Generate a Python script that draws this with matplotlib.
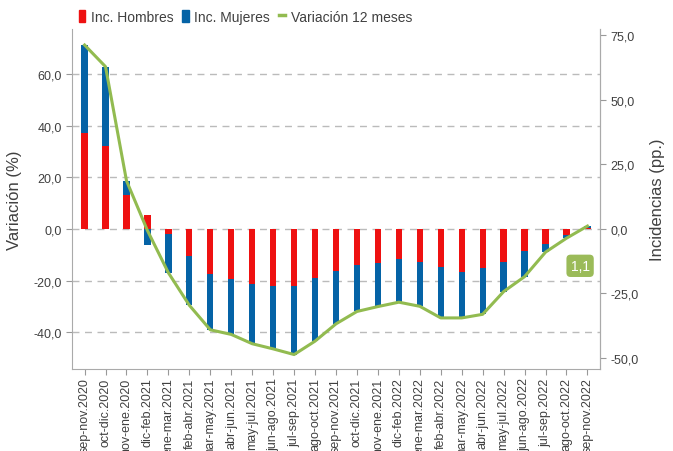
import matplotlib
matplotlib.use("Agg")
import matplotlib.pyplot as plt
import numpy as np
from matplotlib.lines import Line2D
from matplotlib.patches import Patch

plt.rcParams['font.family'] = ['Liberation Sans', 'DejaVu Sans']

categories = ["sep-nov.2020", "oct-dic.2020", "nov-ene.2020", "dic-feb.2021", "ene-mar.2021",
              "feb-abr.2021", "mar-may.2021", "abr-jun.2021", "may-jul.2021", "jun-ago.2021",
              "jul-sep.2021", "ago-oct.2021", "sep-nov.2021", "oct-dic.2021", "nov-ene.2021",
              "dic-feb.2022", "ene-mar.2022", "feb-abr.2022", "mar-may.2022", "abr-jun.2022",
              "may-jul.2022", "jun-ago.2022", "jul-sep.2022", "ago-oct.2022", "sep-nov.2022"]

hombres = [37.1, 32.0, 13.3, 5.5, -1.8, -10.6, -17.4, -19.6, -21.4, -22.2, -22.2, -19.1, -16.5,
           -13.8, -13.2, -11.6, -12.8, -14.9, -16.8, -15.2, -12.8, -8.4, -5.9, -2.2, 0.2]
mujeres = [34.2, 30.9, 5.4, -6.1, -15.2, -19.0, -21.7, -21.3, -23.1, -24.3, -26.5, -24.4, -20.3,
           -18.2, -16.9, -16.8, -17.2, -19.6, -17.7, -17.9, -11.5, -10.1, -3.1, -1.4, 0.9]
variacion = [71.3, 62.9, 18.7, -0.6, -17.0, -29.6, -39.1, -40.9, -44.5, -46.5, -48.7, -43.5, -36.8,
             -32.0, -30.1, -28.4, -30.0, -34.5, -34.5, -33.1, -24.3, -18.5, -9.0, -3.6, 1.1]

left_ticks = [-40, -20, 0, 20, 40, 60]
right_ticks = [-50, -25, 0, 25, 50, 75]

RED = "#EE1111"
BLUE = "#0563A6"
GREEN = "#92BB50"
TXT = "#404040"

fig = plt.figure(figsize=(6.73, 4.52), dpi=100)
ax = fig.add_axes([72/673, 1-370/452, (600-72)/673, (370-30)/452])

x = np.arange(len(categories))
h = np.array(hombres)
m = np.array(mujeres)
w = 0.3

ax.bar(x, h, width=w, color=RED, zorder=3)
pos_b = np.where(h > 0, h, 0)
neg_b = np.where(h < 0, h, 0)
m_bottom = np.where(m >= 0, pos_b, neg_b)
ax.bar(x, m, width=w, bottom=m_bottom, color=BLUE, zorder=3)
ax.plot(x, variacion, color=GREEN, lw=2.2, zorder=4)

ylo, yhi = -54.3, 77.5
ax.set_ylim(ylo, yhi)
ax.set_xlim(-0.6, len(categories) - 0.4)
ax.set_yticks(left_ticks)
ax.set_yticklabels([f"{v:.1f}".replace(".", ",") for v in left_ticks])
ax.yaxis.grid(True, linestyle=(0, (5, 4)), color="#BBBBBB", lw=1.0, zorder=0)
ax.set_xticks(x)
ax.set_xticklabels(categories, rotation=90)
ax.tick_params(axis='both', colors="#999999", labelcolor=TXT, labelsize=9, length=4)
ax.tick_params(axis='x', pad=2)
ax.spines["top"].set_visible(False)
for s in ["left", "bottom", "right"]:
    ax.spines[s].set_color("#AAAAAA")
ax.set_ylabel("Variación (%)", fontsize=12, color=TXT, labelpad=8)

ax2 = ax.twinx()
ax2.set_ylim(ylo, yhi)
ax2.set_yticks(right_ticks)
ax2.set_yticklabels([f"{v:.1f}".replace(".", ",") for v in right_ticks])
ax2.tick_params(axis='y', colors="#999999", labelcolor=TXT, labelsize=9, length=4)
for s in ["top", "left", "bottom"]:
    ax2.spines[s].set_visible(False)
ax2.spines["right"].set_color("#AAAAAA")
ax2.set_ylabel("Incidencias (pp.)", fontsize=12, color=TXT, labelpad=8)

ax.text(23.65, -14.3, "1,1", color="white", fontsize=10, ha="center", va="center",
        bbox=dict(boxstyle="round,pad=0.3", fc="#9BBB59", ec="none"), zorder=6)

handles = [Patch(color=RED), Patch(color=BLUE), Line2D([0], [0], color=GREEN, lw=2.5)]
labels = ["Inc. Hombres", "Inc. Mujeres", "Variación 12 meses"]
fig.legend(handles, labels, loc="upper left", bbox_to_anchor=(66/673, 1 + 2/452), ncol=3,
           frameon=False, fontsize=10, handlelength=0.5, handleheight=1.0, handletextpad=0.4,
           columnspacing=0.6, labelcolor=TXT)

fig.savefig("out.png", dpi=100)
